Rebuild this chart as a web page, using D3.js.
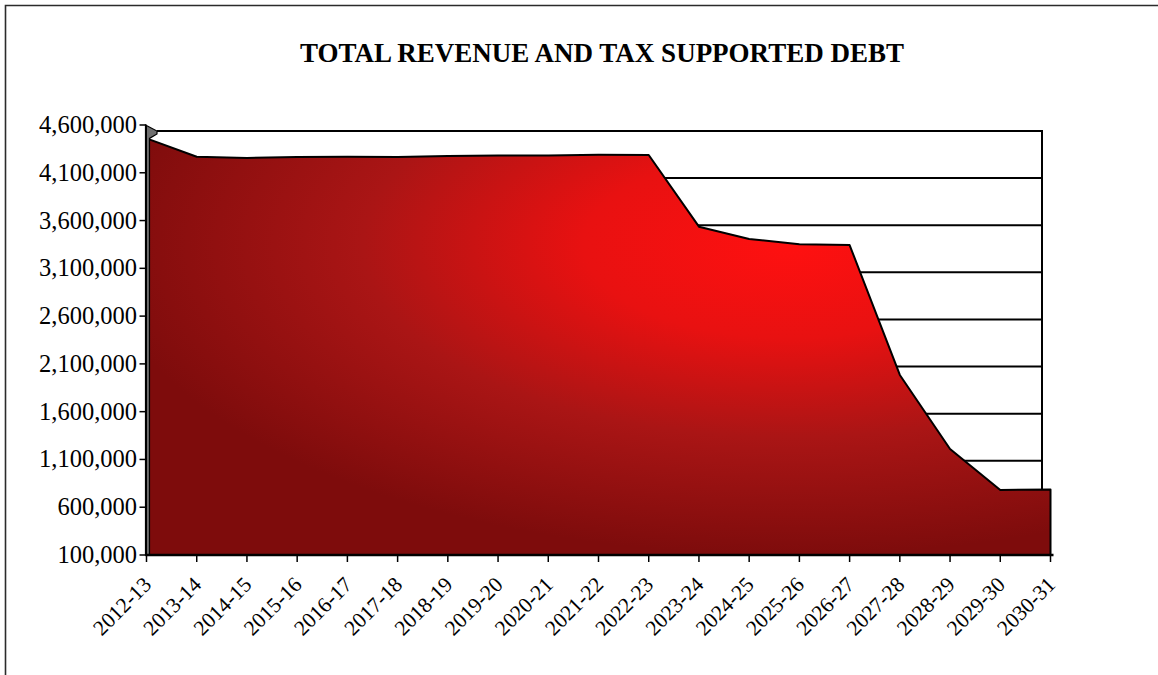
<!DOCTYPE html>
<html>
<head>
<meta charset="utf-8">
<script src="https://cdn.jsdelivr.net/npm/d3@7"></script>
<style>
  html, body { margin: 0; padding: 0; background: #fff; }
  svg { display: block; }
  text { font-family: "Liberation Serif", "Times New Roman", serif; fill: #000; }
</style>
</head>
<body>
<svg id="chart" width="1158" height="675"></svg>
<script>
// Fiscal years on the category axis
const years = ["2012-13","2013-14","2014-15","2015-16","2016-17","2017-18","2018-19",
  "2019-20","2020-21","2021-22","2022-23","2023-24","2024-25","2025-26","2026-27",
  "2027-28","2028-29","2029-30","2030-31"];

// Total revenue and tax supported debt outstanding
const debt = [4460000,4268000,4255000,4265000,4268000,4265000,4275000,4281000,4282000,
  4288000,4286000,3536000,3407000,3351000,3344000,1984000,1209000,780000,785000];

// Value axis ticks
const yTicks = [100000,600000,1100000,1600000,2100000,2600000,3100000,3600000,4100000,4600000];

const title = "TOTAL REVENUE AND TAX SUPPORTED DEBT";

const svg = d3.select("#chart");
const W = 1158, H = 675;

svg.append("rect").attr("width", W).attr("height", H).attr("fill", "#fff");

// outer frame of the chart area
svg.append("path")
  .attr("d", `M5.5,${H} V5.5 H${W}`)
  .attr("fill", "none").attr("stroke", "#2b2b2b").attr("stroke-width", 1.6);

// scales: front plane (area + axes) and the slightly receded back wall
const x = d3.scalePoint().domain(years).range([146.5, 1050.5]);
const y = d3.scaleLinear().domain([100000, 4600000]).range([555, 125]);
const yBack = d3.scaleLinear().domain([100000, 4600000]).range([555, 131]);
const backLeft = 157, backRight = 1042;

// back wall gridlines
svg.append("g").selectAll("line").data(yTicks).join("line")
  .attr("x1", backLeft).attr("x2", backRight)
  .attr("y1", d => yBack(d)).attr("y2", d => yBack(d))
  .attr("stroke", "#000").attr("stroke-width", 2);
svg.append("line")
  .attr("x1", backRight).attr("x2", backRight)
  .attr("y1", yBack(4600000) - 1).attr("y2", yBack(100000))
  .attr("stroke", "#000").attr("stroke-width", 2);

// gradient fill for the area: bright centre fading to dark red edges
const defs = svg.append("defs");
const grad = defs.append("radialGradient")
  .attr("id", "areaFill")
  .attr("gradientUnits", "userSpaceOnUse")
  .attr("cx", 0).attr("cy", 0).attr("r", 1)
  .attr("gradientTransform", "translate(790,245) scale(690,310)");
[[0, "#ff1010"], [0.3, "#e81111"], [0.62, "#aa1515"], [1, "#7e0c0c"]].forEach(([o, c]) =>
  grad.append("stop").attr("offset", o).attr("stop-color", c));

const area = d3.area()
  .x((d, i) => x(years[i]))
  .y0(y(100000))
  .y1(d => y(d));

svg.append("path")
  .datum(debt)
  .attr("d", area)
  .attr("fill", "url(#areaFill)")
  .attr("stroke", "#000").attr("stroke-width", 2).attr("stroke-linejoin", "round");

// depth face on the left side of the series
const x0 = x(years[0]);
const side = [
  [x0 - 1, y(4600000)], [backLeft, yBack(4600000)], [backLeft, yBack(4600000) + 3],
  [x0 + 3, y(debt[0])], [x0 + 3, y(100000)], [x0 - 1, y(100000)]
];
svg.append("path")
  .attr("d", d3.line()(side) + "Z")
  .attr("fill", "#6f6f6f").attr("stroke", "#000").attr("stroke-width", 1.2);

// value axis
const yAxis = svg.append("g");
yAxis.append("line")
  .attr("x1", x0 - 0.5).attr("x2", x0 - 0.5)
  .attr("y1", y(4600000)).attr("y2", y(100000))
  .attr("stroke", "#000").attr("stroke-width", 2);
yAxis.selectAll(".tick").data(yTicks).join("line")
  .attr("x1", x0 - 7).attr("x2", x0)
  .attr("y1", d => y(d)).attr("y2", d => y(d))
  .attr("stroke", "#000").attr("stroke-width", 1.5);
yAxis.selectAll("text").data(yTicks).join("text")
  .attr("x", 137).attr("y", d => y(d) + 8)
  .attr("text-anchor", "end")
  .attr("font-size", 24.5)
  .text(d => d3.format(",")(d));

// category axis
const xAxis = svg.append("g");
xAxis.append("line")
  .attr("x1", x0 - 1).attr("x2", x(years[years.length - 1]) + 3)
  .attr("y1", 555).attr("y2", 555)
  .attr("stroke", "#000").attr("stroke-width", 2.5);
xAxis.selectAll(".tick").data(years).join("line")
  .attr("x1", d => x(d)).attr("x2", d => x(d))
  .attr("y1", 555).attr("y2", 562)
  .attr("stroke", "#000").attr("stroke-width", 1.5);
xAxis.selectAll("text").data(years).join("text")
  .attr("transform", d => `translate(${x(d) + 6},${586}) rotate(-45)`)
  .attr("text-anchor", "end")
  .attr("font-size", 21.5)
  .text(d => d);

// chart title
svg.append("text")
  .attr("x", 602).attr("y", 62)
  .attr("text-anchor", "middle")
  .attr("font-size", 27).attr("font-weight", "bold")
  .text(title);
</script>
</body>
</html>
